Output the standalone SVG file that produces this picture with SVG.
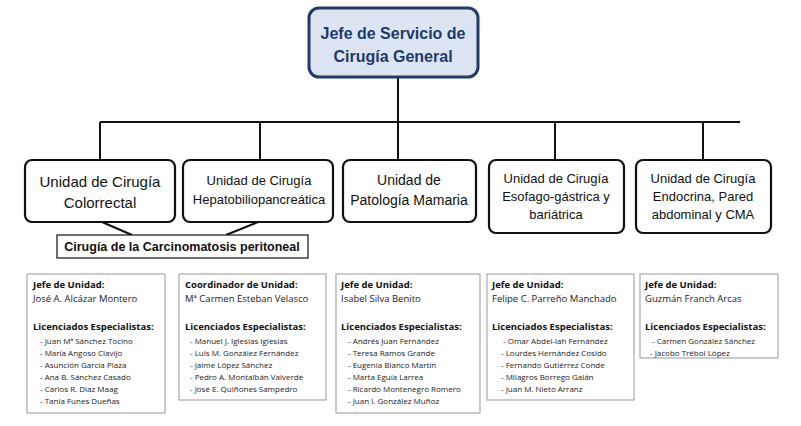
<svg xmlns="http://www.w3.org/2000/svg" width="801" height="426" viewBox="0 0 801 426">
<style>
.u{fill:#fff;stroke:#111;stroke-width:2.2}
.ut{font-family:"Liberation Sans",Arial,sans-serif;font-size:14px;fill:#111;text-anchor:middle}
.b{fill:#fff;stroke:#999;stroke-width:1}
.h{font-family:"Open Sans","DejaVu Sans",sans-serif;font-size:9.5px;font-weight:bold;fill:#111}
.n{font-family:"Open Sans","DejaVu Sans",sans-serif;font-size:9.5px;fill:#222}
.l{font-family:"Open Sans","DejaVu Sans",sans-serif;font-size:8px;fill:#222}
.c{stroke:#111;stroke-width:2;fill:none}
</style>
<rect width="801" height="426" fill="#fff"/>
<g id="connectors">
<path class="c" d="M398 78V122M100 122H740M100 122V160M260 122V160M398 122V160M555 122V160M703 122V160"/>
<path class="c" d="M102 222L132 235M258 222L226 235"/>
</g>
<g id="top"><rect x="309" y="8" width="169" height="69" rx="10" fill="#dce4f2" stroke="#1f3a6b" stroke-width="3"/>
<text x="393" y="39" class="ut" style="font-weight:bold;fill:#1f3a6b;font-size:16px">Jefe de Servicio de</text>
<text x="393" y="62" class="ut" style="font-weight:bold;fill:#1f3a6b;font-size:16px">Cirugía General</text></g>
<g id="u1"><rect class="u" x="25" y="160" width="150" height="62" rx="7"/><text x="100" y="187" class="ut" style="font-size:15px">Unidad de Cirugía</text><text x="100" y="208" class="ut" style="font-size:15px">Colorrectal</text></g>
<g id="u2"><rect class="u" x="183" y="160" width="150" height="62" rx="7"/><text x="259" y="185" class="ut" style="font-size:13px">Unidad de Cirugía</text><text x="259" y="204" class="ut" style="font-size:13px">Hepatobiliopancreática</text></g>
<g id="u3"><rect class="u" x="343" y="160" width="133" height="62" rx="7"/><text x="409" y="185" class="ut">Unidad de</text><text x="409" y="205" class="ut">Patología Mamaria</text></g>
<g id="u4"><rect class="u" x="489" y="160" width="135" height="73" rx="7"/><text x="556" y="183" class="ut" style="font-size:13px">Unidad de Cirugía</text><text x="556" y="201" class="ut" style="font-size:13px">Esofago-gástrica y</text><text x="556" y="219" class="ut" style="font-size:13px">bariátrica</text></g>
<g id="u5"><rect class="u" x="636" y="160" width="135" height="73" rx="7"/><text x="703" y="183" class="ut" style="font-size:13px">Unidad de Cirugía</text><text x="703" y="201" class="ut" style="font-size:13px">Endocrina, Pared</text><text x="703" y="219" class="ut" style="font-size:13px">abdominal y CMA</text></g>
<g id="carc"><rect x="57" y="235" width="251" height="23" fill="#fff" stroke="#111" stroke-width="1.2"/><text x="182" y="251" class="ut" style="font-size:12.5px;font-weight:bold">Cirugía de la Carcinomatosis peritoneal</text></g>
<g id="b1"><rect class="b" x="27" y="274" width="138" height="139"/>
<text x="33" y="288" class="h">Jefe de Unidad:</text><text x="33" y="302" class="n">José A. Alcázar Montero</text>
<text x="33" y="330" class="h">Licenciados Especialistas:</text>
<text class="l"><tspan x="40" y="344">- Juan Mª Sánchez Tocino</tspan><tspan x="40" y="356">- María Angoso Clavijo</tspan><tspan x="40" y="368">- Asunción García Plaza</tspan><tspan x="40" y="380">- Ana B. Sánchez Casado</tspan><tspan x="40" y="392">- Carlos R. Díaz Maag</tspan><tspan x="40" y="404">- Tania Funes Dueñas</tspan></text></g>
<g id="b2"><rect class="b" x="179" y="274" width="147" height="126"/>
<text x="185" y="288" class="h">Coordinador de Unidad:</text><text x="185" y="302" class="n">Mª Carmen Esteban Velasco</text>
<text x="185" y="330" class="h">Licenciados Especialistas:</text>
<text class="l"><tspan x="190" y="344">- Manuel J. Iglesias Iglesias</tspan><tspan x="190" y="356">- Luis M. González Fernández</tspan><tspan x="190" y="368">- Jaime López Sánchez</tspan><tspan x="190" y="380">- Pedro A. Montalbán Valverde</tspan><tspan x="190" y="392">- José E. Quiñones Sampedro</tspan></text></g>
<g id="b3"><rect class="b" x="336" y="274" width="144" height="139"/>
<text x="341" y="288" class="h">Jefe de Unidad:</text><text x="341" y="302" class="n">Isabel Silva Benito</text>
<text x="341" y="330" class="h">Licenciados Especialistas:</text>
<text class="l"><tspan x="348" y="344">- Andrés Juan Fernández</tspan><tspan x="348" y="356">- Teresa Ramos Grande</tspan><tspan x="348" y="368">- Eugenia Blanco Martín</tspan><tspan x="348" y="380">- Marta Eguía Larrea</tspan><tspan x="348" y="392">- Ricardo Montenegro Romero</tspan><tspan x="348" y="404">- Juan I. González Muñoz</tspan></text></g>
<g id="b4"><rect class="b" x="487" y="274" width="147" height="126"/>
<text x="492" y="288" class="h">Jefe de Unidad:</text><text x="492" y="302" class="n">Felipe C. Parreño Manchado</text>
<text x="492" y="330" class="h">Licenciados Especialistas:</text>
<text class="l"><tspan x="503" y="344">- Omar Abdel-lah Fernández</tspan><tspan x="501" y="356">- Lourdes Hernández Cosido</tspan><tspan x="501" y="368">- Fernando Gutiérrez Conde</tspan><tspan x="501" y="380">- Milagros Borrego Galán</tspan><tspan x="501" y="392">- Juan M. Nieto Arranz</tspan></text></g>
<g id="b5"><rect class="b" x="640" y="274" width="138" height="84"/>
<text x="645" y="288" class="h">Jefe de Unidad:</text><text x="645" y="302" class="n">Guzmán Franch Arcas</text>
<text x="645" y="330" class="h">Licenciados Especialistas:</text>
<text class="l"><tspan x="652" y="344">- Carmen González Sánchez</tspan><tspan x="650" y="356">- Jacobo Trébol López</tspan></text></g>
</svg>
